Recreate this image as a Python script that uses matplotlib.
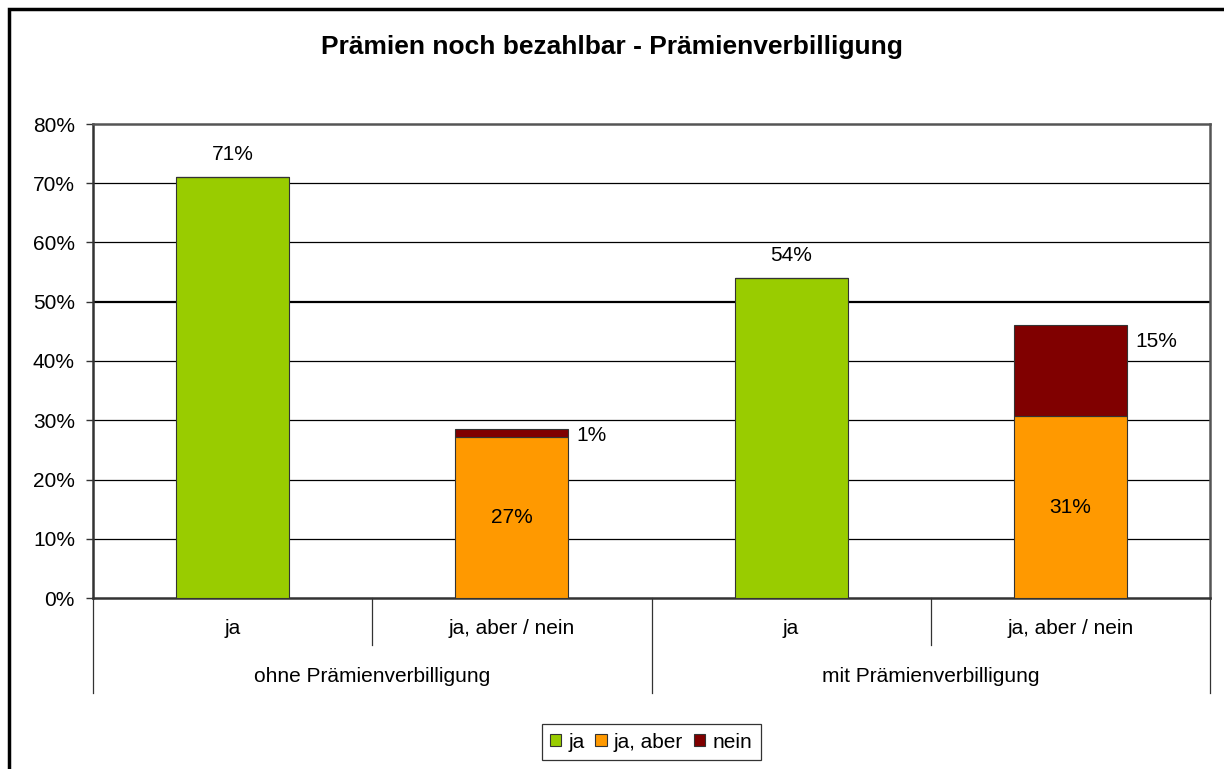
import matplotlib
matplotlib.use("Agg")
import matplotlib.pyplot as plt
from matplotlib.patches import Rectangle
import matplotlib.transforms as mtransforms

plt.rcParams['font.family'] = ['Liberation Sans', 'DejaVu Sans']

# ---- data ----
groups = ["ohne Prämienverbilligung", "mit Prämienverbilligung"]
categories = ["ja", "ja, aber / nein", "ja", "ja, aber / nein"]
ja_vals = [71.0, 0.0, 54.0, 0.0]
jaaber_vals = [0.0, 27.2, 0.0, 30.7]
nein_vals = [0.0, 1.4, 0.0, 15.4]
series_names = ["ja", "ja, aber", "nein"]
colors = ["#99CC00", "#FF9900", "#800000"]
yticks = [0, 10, 20, 30, 40, 50, 60, 70, 80]
title = "Prämien noch bezahlbar - Prämienverbilligung"

W, H = 1224, 769
fig = plt.figure(figsize=(W / 100, H / 100), dpi=100)
fig.patch.set_facecolor("white")

# outer frame
fig.add_artist(Rectangle((9 / W, -0.1), 1.2, 1.1 - 9 / H, transform=fig.transFigure,
                         fill=False, edgecolor="black", linewidth=2.5, clip_on=False))

left, right, top, bottom = 93, 1210, 124, 598
ax = fig.add_axes([left / W, 1 - bottom / H, (right - left) / W, (bottom - top) / H])

x = [i + 0.5 for i in range(len(categories))]
bw = 0.405
b1 = ax.bar(x, ja_vals, bw, color=colors[0], edgecolor="#333333", linewidth=0.8,
            label=series_names[0], zorder=3)
b2 = ax.bar(x, jaaber_vals, bw, bottom=ja_vals, color=colors[1], edgecolor="#333333",
            linewidth=0.8, label=series_names[1], zorder=3)
bottoms3 = [a + b for a, b in zip(ja_vals, jaaber_vals)]
b3 = ax.bar(x, nein_vals, bw, bottom=bottoms3, color=colors[2], edgecolor="#333333",
            linewidth=0.8, label=series_names[2], zorder=3)

fs = 15
ax.set_xlim(0, 4)
ax.set_ylim(0, 80)
ax.set_yticks(yticks)
ax.set_yticklabels([f"{t}%" for t in yticks], fontsize=fs)
ax.set_xticks([])
for t in yticks[1:-1]:
    ax.axhline(t, color="black", linewidth=1.6 if t == 50 else 0.9, zorder=1)

ax.tick_params(axis="y", length=5, width=1, pad=8, color="#333333")
for s in ["left", "bottom"]:
    ax.spines[s].set_color("#333333")
    ax.spines[s].set_linewidth(1.8)
for s in ["top", "right"]:
    ax.spines[s].set_color("#555555")
    ax.spines[s].set_linewidth(1.8)

# data labels
for xi, v in zip(x, ja_vals):
    if v > 0:
        ax.annotate(f"{round(v)}%", (xi, v), xytext=(0, 16.5), textcoords="offset points",
                    ha="center", va="center", fontsize=fs)
for xi, b, v in zip(x, ja_vals, jaaber_vals):
    if v > 0:
        ax.text(xi, b + v / 2, f"{round(v)}%", ha="center", va="center", fontsize=fs)
for xi, b, v in zip(x, bottoms3, nein_vals):
    if v > 0:
        ax.text(xi + bw / 2 + 0.03, b + v * 0.88 - 1, f"{round(v)}%", ha="left",
                va="center", fontsize=fs)

# multi-level category axis
trans = mtransforms.blended_transform_factory(ax.transData, ax.transAxes)
lvl1 = -47 / (bottom - top)
lvl2 = -95 / (bottom - top)
for xi, c in zip(x, categories):
    ax.text(xi, -30 / (bottom - top), c, transform=trans, ha="center", va="center", fontsize=fs)
for gi, g in enumerate(groups):
    ax.text(gi * 2 + 1, -79 / (bottom - top), g, transform=trans, ha="center", va="center",
            fontsize=fs)
for xd in [1, 3]:
    ax.plot([xd, xd], [0, lvl1], transform=trans, color="#333333", linewidth=0.9, clip_on=False)
for xd in [0, 2, 4]:
    ax.plot([xd, xd], [0, lvl2], transform=trans, color="#333333", linewidth=0.9, clip_on=False)

fig.text(0.5, 1 - 47 / H, title, ha="center", va="center", fontsize=19, fontweight="bold")

leg = fig.legend(handles=[b1, b2, b3], labels=series_names, loc="center",
                 bbox_to_anchor=(651 / W, 27 / H), ncol=3, fontsize=fs, frameon=True,
                 fancybox=False, edgecolor="black", handlelength=0.55, handleheight=0.55,
                 handletextpad=0.35, columnspacing=0.5, borderpad=0.4, borderaxespad=0)
leg.get_frame().set_linewidth(0.9)

fig.savefig("out.png", dpi=100, facecolor="white")
